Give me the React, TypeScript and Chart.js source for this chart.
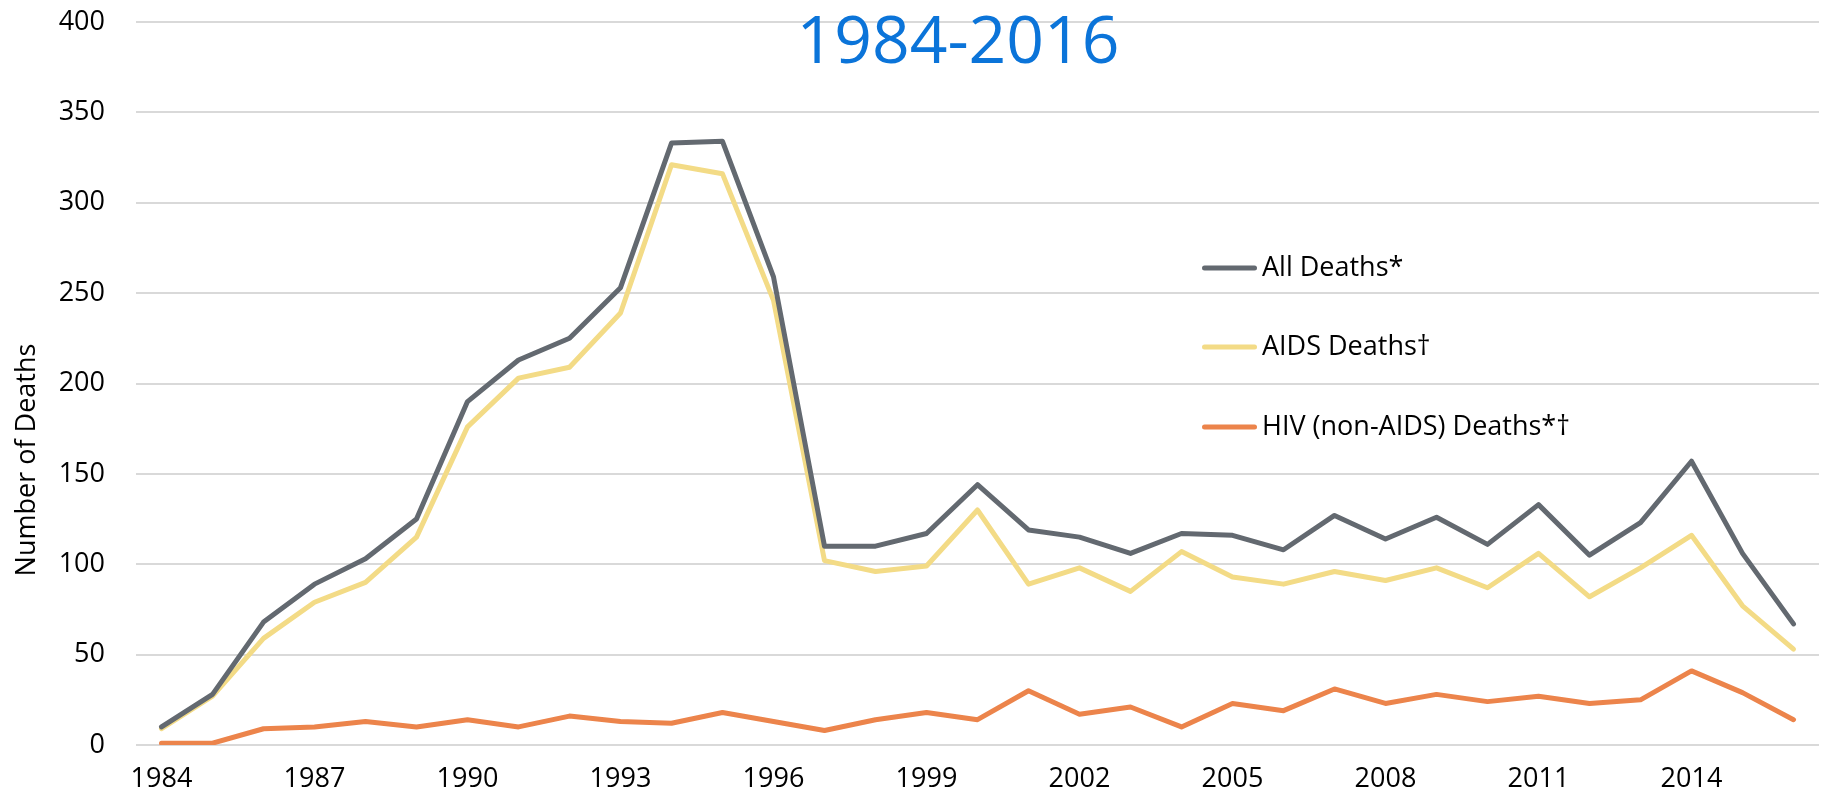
import React, { useEffect, useRef } from "react";
import { Chart, registerables } from "chart.js";

Chart.register(...registerables);

const years: string[] = [
  "1984", "1985", "1986", "1987", "1988", "1989", "1990", "1991",
  "1992", "1993", "1994", "1995", "1996", "1997", "1998", "1999",
  "2000", "2001", "2002", "2003", "2004", "2005", "2006", "2007",
  "2008", "2009", "2010", "2011", "2012", "2013", "2014", "2015", "2016",
];

const allDeaths: number[] = [
  10, 28, 68, 89, 103, 125, 190, 213,
  225, 253, 333, 334, 259, 110, 110, 117,
  144, 119, 115, 106, 117, 116, 108, 127,
  114, 126, 111, 133, 105, 123, 157, 106, 67,
];

const aidsDeaths: number[] = [
  9, 27, 59, 79, 90, 115, 176, 203,
  209, 239, 321, 316, 246, 102, 96, 99,
  130, 89, 98, 85, 107, 93, 89, 96,
  91, 98, 87, 106, 82, 98, 116, 77, 53,
];

const hivNonAidsDeaths: number[] = [
  1, 1, 9, 10, 13, 10, 14, 10,
  16, 13, 12, 18, 13, 8, 14, 18,
  14, 30, 17, 21, 10, 23, 19, 31,
  23, 28, 24, 27, 23, 25, 41, 29, 14,
];

const seriesLabels: string[] = ["All Deaths*", "AIDS Deaths†", "HIV (non-AIDS) Deaths*†"];
const seriesColors: string[] = ["#636970", "#F3DB86", "#EC844B"];
const yTicks: number[] = [0, 50, 100, 150, 200, 250, 300, 350, 400];
const titleText = "1984-2016";
const yTitleText = "Number of Deaths";

const FONT = "'Open Sans', 'DejaVu Sans', sans-serif";

const overlayPlugin = {
  id: "overlayText",
  afterDraw(chart: any) {
    const ctx = chart.ctx as CanvasRenderingContext2D;
    ctx.save();
    // Title
    ctx.fillStyle = "#0B74D9";
    ctx.font = `66px ${FONT}`;
    ctx.textAlign = "center";
    ctx.textBaseline = "alphabetic";
    ctx.fillText(titleText, 958, 63);

    // Y axis title
    ctx.save();
    ctx.translate(27, 460);
    ctx.rotate(-Math.PI / 2);
    ctx.fillStyle = "#000000";
    ctx.font = `27px ${FONT}`;
    ctx.textAlign = "center";
    ctx.textBaseline = "middle";
    ctx.fillText(yTitleText, 0, 0);
    ctx.restore();

    // Legend
    const rowY = [268, 347, 427];
    chart.data.datasets.forEach((ds: any, i: number) => {
      const y = rowY[i];
      ctx.strokeStyle = ds.borderColor;
      ctx.lineWidth = 5;
      ctx.lineCap = "round";
      ctx.beginPath();
      ctx.moveTo(1204.5, y);
      ctx.lineTo(1254.5, y);
      ctx.stroke();
      ctx.fillStyle = "#000000";
      ctx.font = `27px ${FONT}`;
      ctx.textAlign = "left";
      ctx.textBaseline = "middle";
      ctx.fillText(ds.label, 1262, y);
    });
    ctx.restore();
  },
};

export default function App() {
  const canvasRef = useRef<HTMLCanvasElement | null>(null);

  useEffect(() => {
    const canvas = canvasRef.current;
    if (!canvas) return;
    const values = [allDeaths, aidsDeaths, hivNonAidsDeaths];
    const chart = new Chart(canvas, {
      type: "line",
      data: {
        labels: years,
        datasets: values.map((v, i) => ({
          label: seriesLabels[i],
          data: v,
          borderColor: seriesColors[i],
          backgroundColor: seriesColors[i],
          borderWidth: 5,
          pointRadius: 0,
          tension: 0,
          borderCapStyle: "round" as const,
          borderJoinStyle: "round" as const,
          fill: false,
        })),
      },
      options: {
        responsive: false,
        animation: false,
        layout: { padding: { top: 22, right: 6, left: 0, bottom: 0 } },
        plugins: {
          legend: { display: false },
          title: { display: false },
          tooltip: { enabled: false },
        },
        scales: {
          x: {
            type: "category",
            offset: true,
            grid: { display: false, drawTicks: false },
            border: { display: false },
            ticks: {
              autoSkip: false,
              maxRotation: 0,
              minRotation: 0,
              padding: 18,
              color: "#000000",
              font: { family: FONT, size: 27 },
              callback: (_v: any, idx: number) => (idx % 3 === 0 ? years[idx] : ""),
            },
            afterFit: (scale: any) => {
              scale.height = 57;
              scale.paddingLeft = 0;
              scale.paddingRight = 0;
              scale.paddingTop = 0;
              scale.paddingBottom = 0;
            },
          },
          y: {
            min: 0,
            max: 400,
            afterBuildTicks: (scale: any) => {
              scale.ticks = yTicks.map((v) => ({ value: v }));
            },
            grid: { color: "#D9D9D9", lineWidth: 2, drawTicks: false },
            border: { display: false },
            ticks: {
              padding: 31,
              color: "#000000",
              font: { family: FONT, size: 27 },
            },
            afterFit: (scale: any) => {
              scale.width = 136;
              scale.paddingTop = 0;
              scale.paddingBottom = 0;
              scale.paddingLeft = 0;
              scale.paddingRight = 0;
            },
          },
        },
      },
      plugins: [overlayPlugin],
    });
    return () => chart.destroy();
  }, []);

  return (
    <div style={{ position: "absolute", left: 0, top: 0, width: 1825, height: 802, background: "#ffffff" }}>
      <canvas ref={canvasRef} width={1825} height={802} style={{ display: "block" }} />
    </div>
  );
}
